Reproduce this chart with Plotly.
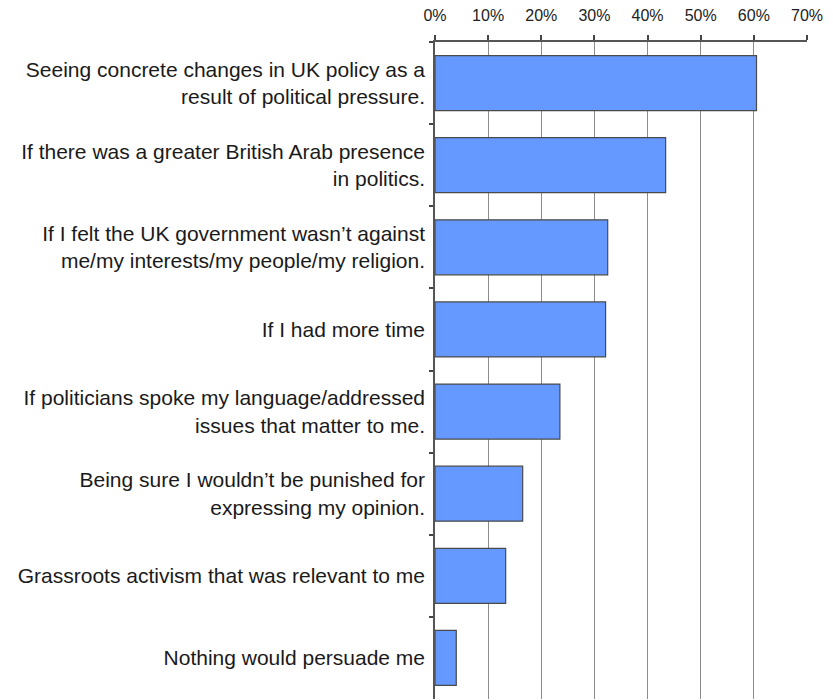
import plotly.graph_objects as go

categories = [
    "Seeing concrete changes in UK policy as a<br>result of political pressure.",
    "If there was a greater British Arab presence<br>in politics.",
    "If I felt the UK government wasn\u2019t against<br>me/my interests/my people/my religion.",
    "If I had more time",
    "If politicians spoke my language/addressed<br>issues that matter to me.",
    "Being sure I wouldn\u2019t be punished for<br>expressing my opinion.",
    "Grassroots activism that was relevant to me",
    "Nothing would persuade me",
]
values = [60.5, 43.4, 32.5, 32.1, 23.5, 16.5, 13.3, 4.0]
x_ticks = [0, 10, 20, 30, 40, 50, 60, 70]
x_tick_labels = ["0%", "10%", "20%", "30%", "40%", "50%", "60%", "70%"]

fig = go.Figure(
    go.Bar(
        x=values,
        y=categories,
        orientation="h",
        marker=dict(color="#6699FF", line=dict(color="#4a4a4a", width=1.2)),
        hoverinfo="x+y",
    )
)

fig.update_layout(
    width=833,
    height=700,
    margin=dict(l=435, r=26, t=42, b=1, autoexpand=False),
    paper_bgcolor="white",
    plot_bgcolor="white",
    bargap=0.33,
    showlegend=False,
    font=dict(family="Liberation Sans, Arial, sans-serif", color="#1a1a1a"),
)

fig.update_xaxes(
    side="top",
    range=[0, 70],
    tickmode="array",
    tickvals=x_ticks,
    ticktext=x_tick_labels,
    ticks="outside",
    ticklen=5,
    tickwidth=1.5,
    tickcolor="#444",
    tickfont=dict(size=16, color="#222"),
    ticklabelstandoff=8,
    showgrid=True,
    gridcolor="#8c8c8c",
    gridwidth=1,
    showline=True,
    linecolor="#555",
    linewidth=2,
    zeroline=False,
    automargin=False,
    fixedrange=True,
)

fig.update_yaxes(
    type="category",
    autorange="reversed",
    tickson="boundaries",
    ticks="outside",
    ticklen=4,
    tickwidth=1.5,
    tickcolor="#444",
    tickfont=dict(size=21, color="#1a1a1a"),
    ticklabelstandoff=4,
    showline=True,
    linecolor="#555",
    linewidth=1.5,
    showgrid=False,
    automargin=False,
    fixedrange=True,
)

fig.write_html(
    "out.html",
    config={"displayModeBar": False},
    post_script="document.body.style.margin='0';document.body.style.overflow='hidden';",
)
